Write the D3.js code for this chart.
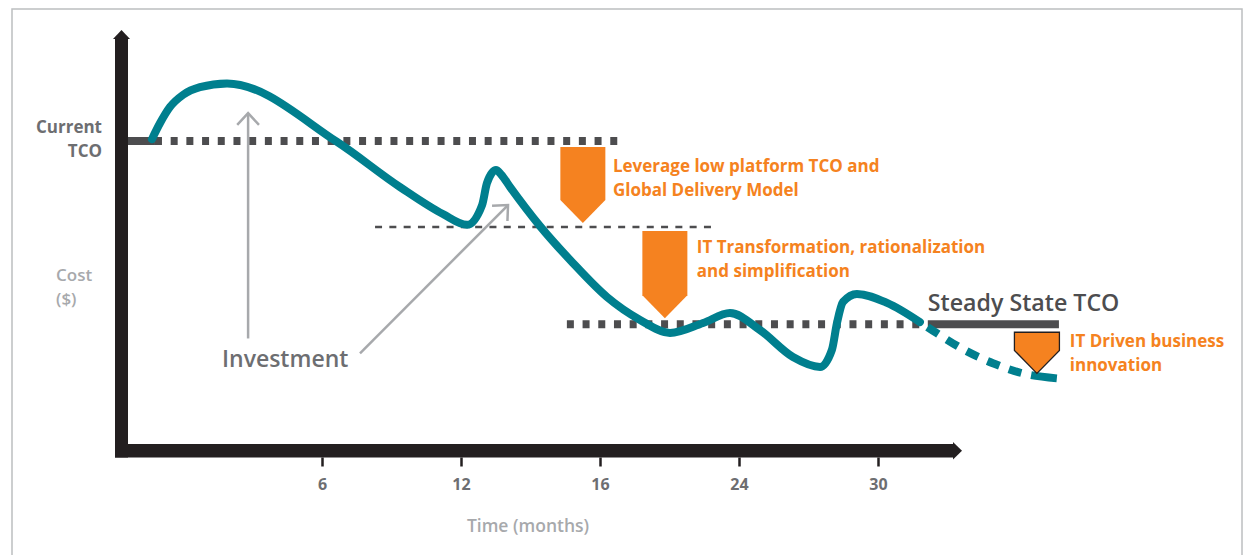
<!DOCTYPE html>
<html><head><meta charset="utf-8">
<script src="https://cdn.jsdelivr.net/npm/d3@7"></script>
<style>
body{margin:0;background:#fff;}
svg text{font-family:"Open Sans","Noto Sans",sans-serif;}
</style></head><body>
<svg id="c" width="1249" height="555"></svg>
<script>
// ---------- data ----------
const tickMonths = [6, 12, 18, 24, 30];
const tickLabels = ["6", "12", "16", "24", "30"];

const costMonths = [-1.34, -0.99, -0.56, 0.00, 0.73, 1.90, 6.65, 9.37, 11.22, 12.26, 12.91, 13.12, 13.51, 13.73, 14.12, 15.41, 16.83, 18.30, 19.73, 21.02, 22.45, 23.61, 24.91, 26.33, 27.50, 28.01, 28.23, 28.49, 29.09, 30.39, 31.81];
const costValues = [100.6, 105.8, 111.0, 114.9, 117.4, 118.6, 99.7, 85.1, 76.4, 72.9, 79.3, 86.4, 90.6, 89.2, 85.1, 72.5, 60.6, 49.6, 42.2, 38.0, 41.2, 44.4, 38.9, 30.2, 27.0, 32.5, 41.2, 48.0, 50.6, 47.7, 41.5];

const projMonths = [31.81, 32.54, 33.75, 34.96, 36.26, 37.72];
const projValues = [41.5, 37.9, 32.4, 28.2, 24.9, 23.3];

const levelNames = ["current", "intermediate", "steady"];
const levelValues = [100, 72.2, 40.8];
const levelFrom = [-1.21, 8.29, 16.57];
const levelTo = [18.78, 22.83, 31.9];
const steadySolidFrom = 32.15, steadySolidTo = 37.81;

const markerMonths = [17.26, 20.80, 36.86];
const markerTop = [98.1, 70.9, 38.2];
const markerTip = [73.5, 42.7, 24.9];
const markerLabels = [
  ["Leverage low platform TCO and", "Global Delivery Model"],
  ["IT Transformation, rationalization", "and simplification"],
  ["IT Driven business", "innovation"]
];
const markerLabelMonth = [18.56, 22.18, 38.28];
const markerLabelCost = [90.0, 63.8, 33.4];

const arrowFrom = [[2.81, 36.2], [7.64, 31.4]];
const arrowTo = [[2.81, 109.0], [14.03, 79.3]];

// ---------- layout ----------
const svg = d3.select("#c");
const teal = "#007f8e", orange = "#f58220", dark = "#4d4d4f", axisCol = "#231f20";
const grayText = "#6d6e71", lightText = "#a7a9ac";

const x = d3.scaleLinear().domain([6, 30]).range([322, 878]);
const y = d3.scaleLinear().domain([0, 100]).range([450.5, 141]);

// border
svg.append("rect").attr("x", 12).attr("y", 9).attr("width", 1230).attr("height", 600)
  .attr("fill", "none").attr("stroke", "#bcbec0").attr("stroke-width", 1.5);

// axes shafts
const axL = 115, axR = 128, axTop = 30, axBottom = 457.5;
const xAxTop = 444, xAxRight = 962;
svg.append("rect").attr("x", axL).attr("y", axTop + 8).attr("width", axR - axL).attr("height", axBottom - axTop - 8).attr("fill", axisCol);
svg.append("path").attr("d", `M${axL - 2},${axTop + 9}L${(axL + axR) / 2},${axTop}L${axR + 2},${axTop + 9}Z`).attr("fill", axisCol);
svg.append("rect").attr("x", axL).attr("y", xAxTop).attr("width", xAxRight - 9 - axL).attr("height", axBottom - xAxTop).attr("fill", axisCol);
svg.append("path").attr("d", `M${xAxRight - 9},${xAxTop - 2}L${xAxRight},${(xAxTop + axBottom) / 2}L${xAxRight - 9},${axBottom + 2}Z`).attr("fill", axisCol);

// x axis ticks
const xAxis = d3.axisBottom(x).tickValues(tickMonths)
  .tickFormat((d, i) => tickLabels[i]).tickSize(9).tickPadding(12);
const gx = svg.append("g").attr("transform", `translate(0,${axBottom})`).call(xAxis);
gx.select(".domain").remove();
gx.selectAll(".tick line").attr("stroke", axisCol).attr("stroke-width", 2.5);
gx.selectAll(".tick text").attr("fill", grayText).attr("font-size", 16).attr("font-weight", 700)
  .style("font-family", '"Open Sans",sans-serif');

svg.append("text").attr("x", 528).attr("y", 532).attr("text-anchor", "middle")
  .attr("fill", lightText).attr("font-size", 17.5).attr("font-weight", 600).text("Time (months)");

// y labels
svg.append("text").attr("x", 102).attr("y", y(100) - 8).attr("text-anchor", "end")
  .attr("fill", grayText).attr("font-size", 17).attr("font-weight", 700).text("Current");
svg.append("text").attr("x", 102).attr("y", y(100) + 16).attr("text-anchor", "end")
  .attr("fill", grayText).attr("font-size", 17).attr("font-weight", 700).text("TCO");
svg.append("text").attr("x", 56).attr("y", 281)
  .attr("fill", lightText).attr("font-size", 17).attr("font-weight", 600).text("Cost");
svg.append("text").attr("x", 56).attr("y", 305)
  .attr("fill", lightText).attr("font-size", 17).attr("font-weight", 600).text("($)");

// level lines
svg.append("line").attr("x1", axR).attr("x2", x(levelFrom[0])).attr("y1", y(levelValues[0])).attr("y2", y(levelValues[0]))
  .attr("stroke", dark).attr("stroke-width", 8);
levelNames.forEach((n, i) => {
  const thin = n === "intermediate";
  svg.append("line").attr("x1", x(levelFrom[i])).attr("x2", x(levelTo[i]))
    .attr("y1", y(levelValues[i])).attr("y2", y(levelValues[i]))
    .attr("stroke", dark).attr("stroke-width", thin ? 2.5 : 8)
    .attr("stroke-dasharray", thin ? "7,7.3" : "7,8.7");
});
svg.append("line").attr("x1", x(steadySolidFrom)).attr("x2", x(steadySolidTo))
  .attr("y1", y(levelValues[2])).attr("y2", y(levelValues[2]))
  .attr("stroke", dark).attr("stroke-width", 8);
svg.append("text").attr("x", x(steadySolidFrom)).attr("y", y(levelValues[2]) - 13)
  .attr("fill", dark).attr("font-size", 23.2).attr("font-weight", 600).text("Steady State TCO");

// curves
const line = d3.line().x(d => x(d[0])).y(d => y(d[1])).curve(d3.curveMonotoneX);
svg.append("path").datum(costMonths.map((m, i) => [m, costValues[i]]))
  .attr("d", line).attr("fill", "none").attr("stroke", teal).attr("stroke-width", 8).attr("stroke-linecap", "round");
svg.append("path").datum(projMonths.map((m, i) => [m, projValues[i]]))
  .attr("d", line).attr("fill", "none").attr("stroke", teal).attr("stroke-width", 8)
  .attr("stroke-dasharray", "0,9,13,10,13,10,13,10,13,10,13,10,40");

// investment arrows
const arrowCol = "#a7a9ac";
arrowFrom.forEach((f, i) => {
  const t = arrowTo[i];
  const x1 = x(f[0]), y1 = y(f[1]), x2 = x(t[0]), y2 = y(t[1]);
  const ang = Math.atan2(y2 - y1, x2 - x1);
  const L = 16, a = Math.PI / 4.2;
  svg.append("line").attr("x1", x1).attr("y1", y1).attr("x2", x2).attr("y2", y2)
    .attr("stroke", arrowCol).attr("stroke-width", 2.5);
  svg.append("path").attr("d", `M${x2 - L * Math.cos(ang - a)},${y2 - L * Math.sin(ang - a)}L${x2},${y2}L${x2 - L * Math.cos(ang + a)},${y2 - L * Math.sin(ang + a)}`)
    .attr("fill", "none").attr("stroke", arrowCol).attr("stroke-width", 2.5);
});
svg.append("text").attr("x", 222).attr("y", 367).attr("fill", grayText)
  .attr("font-size", 23).attr("font-weight", 600).text("Investment");

// markers
const mW = 45, mPoint = 23;
markerMonths.forEach((m, i) => {
  const cx = x(m), top = y(markerTop[i]), tip = y(markerTip[i]);
  svg.append("path").attr("d", `M${cx - mW / 2},${top}H${cx + mW / 2}V${tip - mPoint}L${cx},${tip}L${cx - mW / 2},${tip - mPoint}Z`)
    .attr("fill", orange).attr("stroke", i === 2 ? axisCol : "none").attr("stroke-width", 1.3);
  const t = svg.append("text").attr("x", x(markerLabelMonth[i])).attr("y", y(markerLabelCost[i]))
    .attr("fill", orange).attr("font-size", 17).attr("font-weight", 700);
  markerLabels[i].forEach((s, j) => t.append("tspan").attr("x", x(markerLabelMonth[i])).attr("dy", j ? 24 : 0).text(s));
});
</script>
</body></html>
